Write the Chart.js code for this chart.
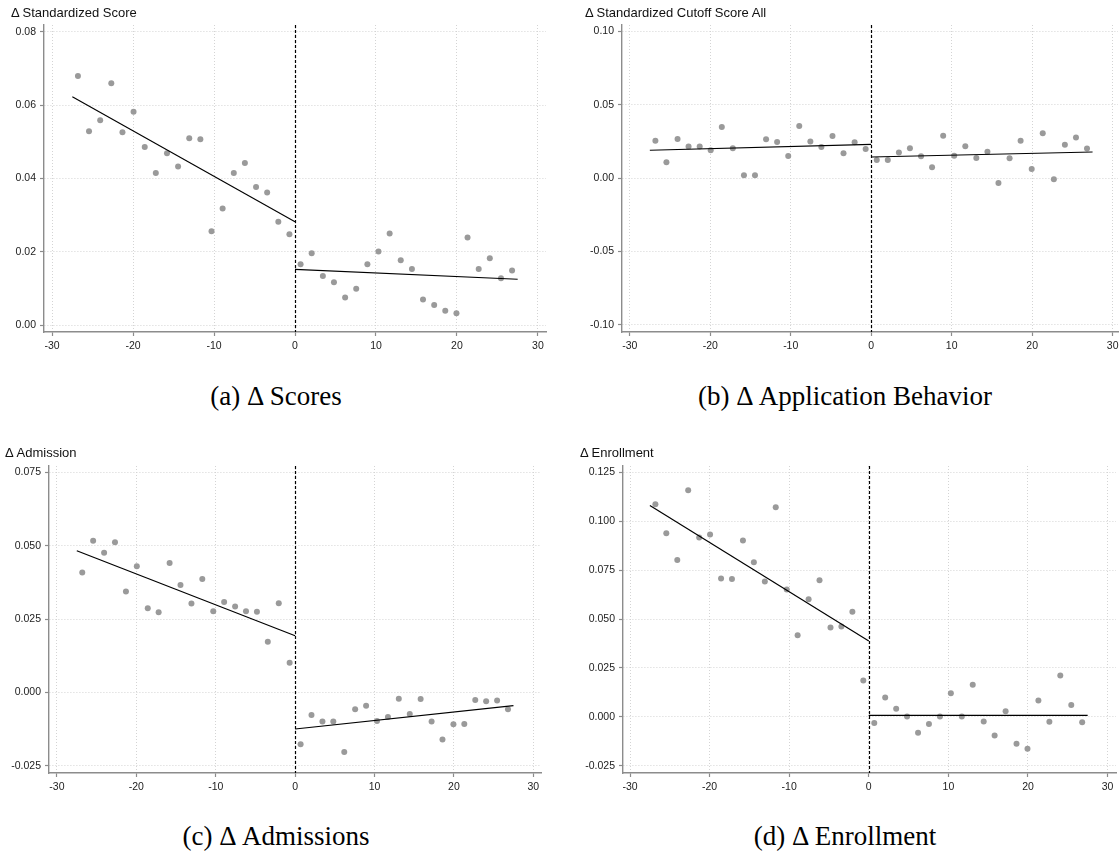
<!DOCTYPE html>
<html>
<head>
  <title>RD plots</title>
  <script src="https://cdn.jsdelivr.net/npm/chart.js"></script>
  <style>
    html, body { margin: 0; padding: 0; background: #fff; overflow: hidden; }
    body { width: 1119px; height: 855px; position: relative; }
    canvas { position: absolute; }
    .ytitle { position: absolute; font: 13px "Liberation Sans", Arial, sans-serif; line-height: 1; color: #111; white-space: nowrap; }
    .caption { position: absolute; width: 400px; text-align: center; font: 27px "Liberation Serif", "Times New Roman", serif; line-height: 1; color: #000; white-space: nowrap; }
  </style>
</head>
<body>

<script>
  // bin centres (running variable), left and right of the cutoff
  const binsLeft = [-26.81, -25.44, -24.06, -22.69, -21.31, -19.94, -18.56, -17.19, -15.81, -14.44,
                    -13.06, -11.69, -10.31, -8.94, -7.56, -6.19, -4.81, -3.44, -2.06, -0.69];
  const binsRight = [0.69, 2.06, 3.44, 4.81, 6.19, 7.56, 8.94, 10.31, 11.69, 13.06,
                     14.44, 15.81, 17.19, 18.56, 19.94, 21.31, 22.69, 24.06, 25.44, 26.81];
  const fitXLeft = [-27.5, 0];
  const fitXRight = [0, 27.5];
  const xTicks = [-30, -20, -10, 0, 10, 20, 30];

  // (a) scores
  const scoresLeft = [0.0680, 0.0529, 0.0559, 0.0660, 0.0526, 0.0582, 0.0486, 0.0415, 0.0469, 0.0433,
                      0.0510, 0.0507, 0.0256, 0.0318, 0.0415, 0.0442, 0.0377, 0.0362, 0.0282, 0.0248];
  const scoresRight = [0.0166, 0.0196, 0.0134, 0.0117, 0.0075, 0.0099, 0.0166, 0.0201, 0.0250, 0.0177,
                       0.0153, 0.0070, 0.0055, 0.0039, 0.0032, 0.0239, 0.0153, 0.0182, 0.0128, 0.0149];
  const scoresFitLeft = [0.0623, 0.0282];
  const scoresFitRight = [0.0152, 0.0125];
  const scoresTicks = [0.00, 0.02, 0.04, 0.06, 0.08];

  // (b) application behaviour
  const applyLeft = [0.0255, 0.0108, 0.0267, 0.0215, 0.0215, 0.0190, 0.0348, 0.0203, 0.0019, 0.0019,
                     0.0264, 0.0246, 0.0151, 0.0355, 0.0249, 0.0212, 0.0287, 0.0169, 0.0244, 0.0199];
  const applyRight = [0.0124, 0.0124, 0.0174, 0.0203, 0.0149, 0.0074, 0.0289, 0.0153, 0.0217, 0.0137,
                      0.0180, -0.0033, 0.0135, 0.0255, 0.0062, 0.0305, -0.0008, 0.0228, 0.0276, 0.0201];
  const applyFitLeft = [0.0190, 0.0230];
  const applyFitRight = [0.0144, 0.0178];
  const applyTicks = [-0.10, -0.05, 0.00, 0.05, 0.10];

  // (c) admissions
  const admitLeft = [0.0409, 0.0517, 0.0476, 0.0512, 0.0344, 0.0430, 0.0287, 0.0273, 0.0441, 0.0366,
                     0.0303, 0.0387, 0.0277, 0.0308, 0.0293, 0.0277, 0.0275, 0.0173, 0.0304, 0.0101];
  const admitRight = [-0.0177, -0.0077, -0.0099, -0.0099, -0.0203, -0.0058, -0.0046, -0.0098, -0.0084, -0.0022,
                      -0.0074, -0.0023, -0.0099, -0.0161, -0.0109, -0.0108, -0.0026, -0.0030, -0.0028, -0.0058];
  const admitFitLeft = [0.0483, 0.0193];
  const admitFitRight = [-0.0125, -0.0045];
  const admitTicks = [-0.025, 0.000, 0.025, 0.050, 0.075];

  // (d) enrollment
  const enrollLeft = [0.1087, 0.0938, 0.0801, 0.1158, 0.0916, 0.0932, 0.0707, 0.0704, 0.0901, 0.0790,
                      0.0692, 0.1071, 0.0651, 0.0417, 0.0601, 0.0698, 0.0457, 0.0462, 0.0537, 0.0186];
  const enrollRight = [-0.0032, 0.0099, 0.0041, 0.0002, -0.0081, -0.0037, 0.0002, 0.0121, 0.0002, 0.0164,
                       -0.0024, -0.0095, 0.0028, -0.0138, -0.0163, 0.0084, -0.0025, 0.0211, 0.0060, -0.0028];
  const enrollFitLeft = [0.1080, 0.0388];
  const enrollFitRight = [0.0007, 0.0007];
  const enrollTicks = [-0.025, 0.000, 0.025, 0.050, 0.075, 0.100, 0.125];

  const panels = [
    { title: 'Δ Standardized Score', caption: '(a) Δ Scores',
      left: 0, top: 0, w: 560, h: 360, axisLeft: 44, plotTop: 25, plotRight: 546, plotBottom: 332,
      xMin: -31, xMax: 31, yMin: -0.0019, yMax: 0.0819, dp: 2, titleX: 11, capX: 276,
      pts: [scoresLeft, scoresRight], fit: [scoresFitLeft, scoresFitRight], yTicks: scoresTicks },
    { title: 'Δ Standardized Cutoff Score All', caption: '(b) Δ Application Behavior',
      left: 560, top: 0, w: 575, h: 360, axisLeft: 62, plotTop: 25, plotRight: 558, plotBottom: 332,
      xMin: -30.96, xMax: 30.66, yMin: -0.1048, yMax: 0.1043, dp: 2, titleX: 25, capX: 845,
      pts: [applyLeft, applyRight], fit: [applyFitLeft, applyFitRight], yTicks: applyTicks },
    { title: 'Δ Admission', caption: '(c) Δ Admissions',
      left: 0, top: 440, w: 560, h: 360, axisLeft: 49, plotTop: 26, plotRight: 541, plotBottom: 333,
      xMin: -31, xMax: 30.97, yMin: -0.0275, yMax: 0.0772, dp: 3, titleX: 5, capX: 276,
      pts: [admitLeft, admitRight], fit: [admitFitLeft, admitFitRight], yTicks: admitTicks },
    { title: 'Δ Enrollment', caption: '(d) Δ Enrollment',
      left: 560, top: 440, w: 575, h: 360, axisLeft: 63, plotTop: 26, plotRight: 556, plotBottom: 333,
      xMin: -30.88, xMax: 31.06, yMin: -0.0287, yMax: 0.1282, dp: 3, titleX: 20, capX: 845,
      pts: [enrollLeft, enrollRight], fit: [enrollFitLeft, enrollFitRight], yTicks: enrollTicks }
  ];

  const axisColor = '#8c8c8c';
  const gridColor = '#d4d4d4';
  const tickFont = { family: '"Liberation Sans", Arial, sans-serif', size: 10.5 };

  // dashed vertical line at the cutoff
  const cutoffLine = {
    id: 'cutoffLine',
    afterDatasetsDraw(chart) {
      const { ctx, chartArea, scales } = chart;
      const x = Math.round(scales.x.getPixelForValue(0)) + 0.5;
      ctx.save();
      ctx.strokeStyle = '#000';
      ctx.lineWidth = 1.2;
      ctx.setLineDash([3, 2]);
      ctx.beginPath();
      ctx.moveTo(x, chartArea.top);
      ctx.lineTo(x, chartArea.bottom);
      ctx.stroke();
      ctx.restore();
    }
  };

  panels.forEach(p => {
    const canvas = document.createElement('canvas');
    canvas.width = p.w;
    canvas.height = p.h;
    canvas.style.left = p.left + 'px';
    canvas.style.top = p.top + 'px';
    canvas.style.width = p.w + 'px';
    canvas.style.height = p.h + 'px';
    document.body.appendChild(canvas);

    const t = document.createElement('div');
    t.className = 'ytitle';
    t.textContent = p.title;
    t.style.left = (p.left + p.titleX) + 'px';
    t.style.top = (p.top + 6) + 'px';
    document.body.appendChild(t);

    const c = document.createElement('div');
    c.className = 'caption';
    c.textContent = p.caption;
    c.style.left = (p.capX - 200) + 'px';
    c.style.top = (p.top + 383) + 'px';
    document.body.appendChild(c);

    const dots = bins => (v, i) => ({ x: bins[i], y: v });
    const fitPts = xs => (v, i) => ({ x: xs[i], y: v });

    new Chart(canvas.getContext('2d'), {
      type: 'scatter',
      data: {
        datasets: [
          { data: p.fit[0].map(fitPts(fitXLeft)), showLine: true, borderColor: '#000', borderWidth: 1.2, pointRadius: 0, order: 0 },
          { data: p.fit[1].map(fitPts(fitXRight)), showLine: true, borderColor: '#000', borderWidth: 1.2, pointRadius: 0, order: 0 },
          { data: p.pts[0].map(dots(binsLeft)), backgroundColor: '#9a9a9a', borderWidth: 0, pointRadius: 3, order: 1 },
          { data: p.pts[1].map(dots(binsRight)), backgroundColor: '#9a9a9a', borderWidth: 0, pointRadius: 3, order: 1 }
        ]
      },
      options: {
        responsive: false,
        animation: false,
        events: [],
        layout: { padding: { left: 0, top: p.plotTop, right: p.w - p.plotRight, bottom: 0 } },
        plugins: { legend: { display: false }, tooltip: { enabled: false }, title: { display: false } },
        scales: {
          x: {
            type: 'linear', min: p.xMin, max: p.xMax,
            afterBuildTicks: s => { s.ticks = xTicks.map(v => ({ value: v })); },
            afterFit: s => { s.height = p.h - p.plotBottom; },
            ticks: { autoSkip: false, maxRotation: 0, padding: 4, color: '#222', font: tickFont, callback: v => String(v) },
            grid: { color: gridColor, lineWidth: 1, tickLength: 4, tickColor: axisColor, tickWidth: 1.2 },
            border: { display: true, color: axisColor, width: 1.4, dash: [1, 2] }
          },
          y: {
            type: 'linear', min: p.yMin, max: p.yMax,
            afterBuildTicks: s => { s.ticks = p.yTicks.map(v => ({ value: v })); },
            afterFit: s => { s.width = p.axisLeft; },
            ticks: { autoSkip: false, padding: 4, color: '#222', font: tickFont, callback: v => v.toFixed(p.dp) },
            grid: { color: gridColor, lineWidth: 1, tickLength: 4, tickColor: axisColor, tickWidth: 1.2 },
            border: { display: true, color: axisColor, width: 1.4, dash: [1, 2] }
          }
        }
      },
      plugins: [cutoffLine]
    });
  });
</script>
</body>
</html>
